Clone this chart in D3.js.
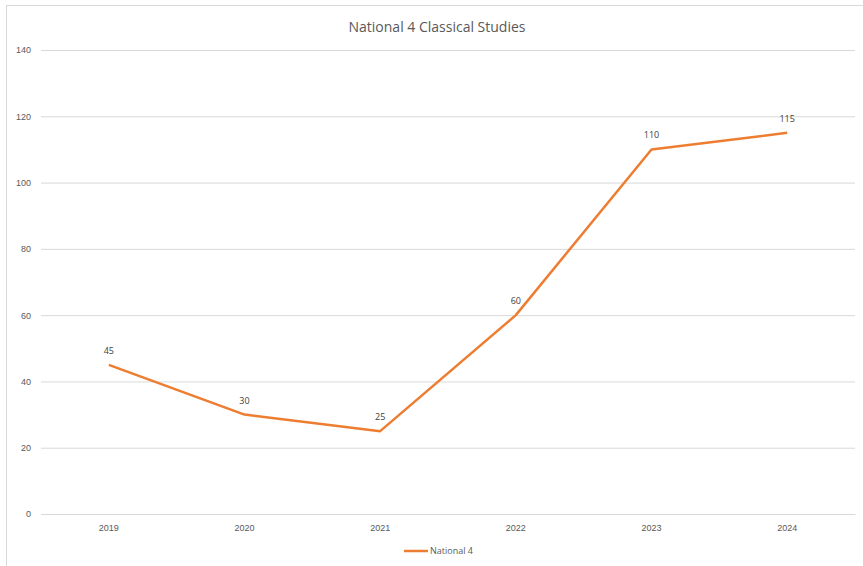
<!DOCTYPE html>
<html><head><meta charset="utf-8">
<script src="https://cdn.jsdelivr.net/npm/d3@7"></script>
<style>body{margin:0;background:#fff;}svg{display:block;font-family:"Open Sans","Liberation Sans",sans-serif;}</style>
</head><body>
<svg id="c" width="863" height="566"></svg>
<script>
const title = "National 4 Classical Studies";
const years = ["2019","2020","2021","2022","2023","2024"];
const values = [45, 30, 25, 60, 110, 115];
const yTicks = [0,20,40,60,80,100,120,140];
const seriesName = "National 4";

const svg = d3.select("#c");
const W=863,H=566;
svg.append("rect").attr("x",6.5).attr("y",5.5).attr("width",W).attr("height",H).attr("fill","#fff").attr("stroke","#d9d9d9");

const x = d3.scaleBand().domain(years).range([41,855]);
const y = d3.scaleLinear().domain([0,140]).range([514,50]);

svg.append("text").attr("x",437).attr("y",32).attr("text-anchor","middle").attr("font-size",14).attr("fill","#595959").text(title);

const yAxis = svg.append("g").attr("transform","translate(41,0)")
  .call(d3.axisLeft(y).tickValues(yTicks).tickSize(-814).tickPadding(10));
yAxis.select(".domain").remove();
yAxis.selectAll(".tick line").attr("stroke","#d9d9d9");
yAxis.selectAll(".tick text").attr("fill","#595959").attr("font-size",9);

const xAxis = svg.append("g").attr("transform","translate(0,514)")
  .call(d3.axisBottom(x).tickSize(0).tickPadding(11));
xAxis.select(".domain").attr("stroke","#d9d9d9");
xAxis.selectAll(".tick text").attr("fill","#595959").attr("font-size",9);

const line = d3.line().x((d,i)=>x(years[i])+x.bandwidth()/2).y(d=>y(d));
svg.append("path").datum(values).attr("d",line).attr("fill","none").attr("stroke","#ED7D31").attr("stroke-width",2.5).attr("stroke-linejoin","round");

svg.selectAll(".lbl").data(values).enter().append("text")
  .attr("x",(d,i)=>x(years[i])+x.bandwidth()/2).attr("y",d=>y(d)-11)
  .attr("text-anchor","middle").attr("font-size",9).attr("fill","#404040").text(d=>d);

svg.append("line").attr("x1",404).attr("x2",428).attr("y1",551).attr("y2",551).attr("stroke","#ED7D31").attr("stroke-width",2.5);
svg.append("text").attr("x",430).attr("y",554).attr("font-size",9).attr("fill","#595959").text(seriesName);
</script>
</body></html>
